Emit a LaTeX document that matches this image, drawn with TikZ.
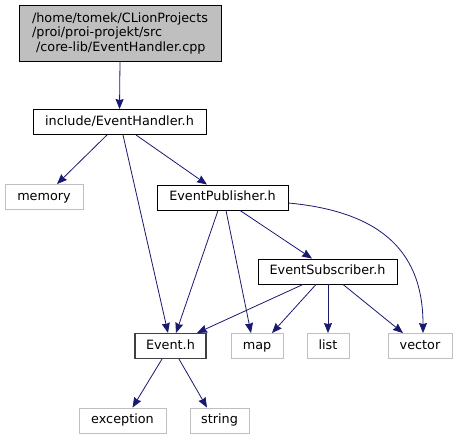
\documentclass[tikz,border=0pt]{standalone}
\usepackage{fontspec}
\setmainfont{DejaVu Sans}
\usetikzlibrary{arrows.meta}
\definecolor{edgeblue}{RGB}{25,25,112}
\definecolor{lightbd}{RGB}{191,191,191}
\definecolor{topfill}{RGB}{191,191,191}
\definecolor{darkbd}{RGB}{64,64,64}
\begin{document}
\begin{tikzpicture}[x=1pt,y=-1pt,
  every node/.style={font=\fontsize{12.8}{14.5}\selectfont, inner sep=0pt, text height=9.5pt, text depth=2.7pt},
  filebox/.style={draw=black, line width=0.9pt, fill=white, minimum height=25pt},
  sysbox/.style={draw=lightbd, line width=0.9pt, fill=white, minimum height=25pt},
  topbox/.style={draw=black, line width=0.9pt, fill=topfill, align=left, minimum width=202pt, minimum height=56pt, text height=, text depth=},
  evbox/.style={draw=darkbd, line width=1.1pt, fill=white, minimum height=25pt},
  dep/.style={draw=edgeblue, line width=0.8pt, -{Stealth[length=10pt,width=8pt,inset=1pt]}}
]
\useasboundingbox (0,0) rectangle (457,440);
\fill[white] (0,0) rectangle (457,440);

\node[topbox] (top) at (120,33) {/home/tomek/CLionProjects\\/proi/proi-projekt/src\\\hspace*{4pt}/core-lib/EventHandler.cpp};
\node[filebox, minimum width=173pt] (inc) at (119.5,122) {include/EventHandler.h};
\node[sysbox, minimum width=78pt] (mem) at (44,197) {memory};
\node[filebox, minimum width=131pt] (pub) at (222.5,197.5) {EventPublisher.h};
\node[filebox, minimum width=139pt] (sub) at (327.5,271.5) {EventSubscriber.h};
\node[evbox, minimum width=71pt] (ev) at (170.5,346) {Event.h};
\node[sysbox, minimum width=52pt] (map) at (257,346) {map};
\node[sysbox, minimum width=42pt] (list) at (328,346) {list};
\node[sysbox, minimum width=64pt] (vec) at (420,346) {vector};
\node[sysbox, minimum width=87pt] (exc) at (122.5,420.5) {exception};
\node[sysbox, minimum width=59pt] (str) at (219.5,420.5) {string};

\draw[dep] (top.south) -- (inc.north);
\draw[dep] ([xshift=-12.5pt]inc.south) -- ([xshift=13pt]mem.north);
\draw[dep] ([xshift=3.5pt]inc.south) -- ([xshift=-2.5pt]ev.north);
\draw[dep] ([xshift=16.5pt]inc.south) -- ([xshift=-15.5pt]pub.north);
\draw[dep] ([xshift=-4.5pt]pub.south) -- ([xshift=5.5pt]ev.north);
\draw[dep] ([xshift=3.5pt]pub.south) -- ([xshift=-6pt]map.north);
\draw[dep] ([xshift=17.5pt]pub.south) -- ([xshift=-15.5pt]sub.north);
\draw[dep] ([yshift=-5.5pt]pub.east) .. controls (385,212) and (423,255) .. ([xshift=3pt]vec.north);
\draw[dep] ([xshift=-24.5pt]sub.south) -- ([xshift=26.5pt]ev.north);
\draw[dep] ([xshift=-11.5pt]sub.south) -- ([xshift=15pt]map.north);
\draw[dep] ([xshift=0.5pt]sub.south) -- ([xshift=0pt]list.north);
\draw[dep] ([xshift=15.5pt]sub.south) -- ([xshift=-17pt]vec.north);
\draw[dep] ([xshift=-8.5pt]ev.south) -- ([xshift=10pt]exc.north);
\draw[dep] ([xshift=8.5pt]ev.south) -- ([xshift=-12.5pt]str.north);
\end{tikzpicture}
\end{document}
